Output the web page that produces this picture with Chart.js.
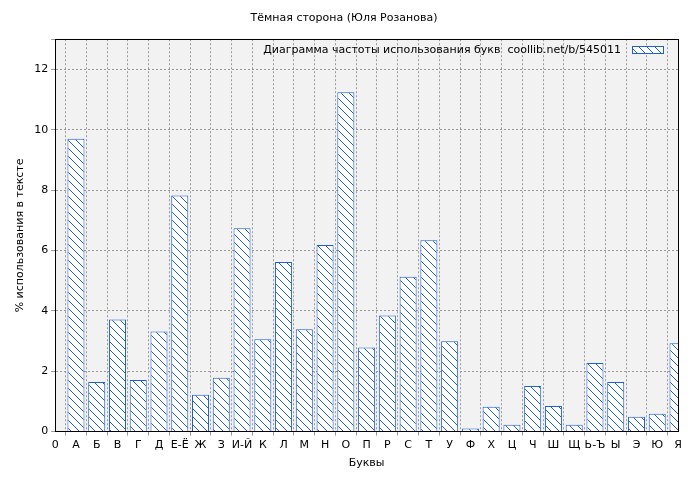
<!DOCTYPE html>
<html><head><meta charset="utf-8">
<script src="https://cdn.jsdelivr.net/npm/chart.js@4"></script>
<style>body{margin:0;background:#fff}#w{width:700px;height:480px}</style>
</head><body><div id="w"><canvas id="c"></canvas></div>
<script>
const tickLabels=["0","А","Б","В","Г","Д","Е-Ё","Ж","З","И-Й","К","Л","М","Н","О","П","Р","С","Т","У","Ф","Х","Ц","Ч","Ш","Щ","Ь-Ъ","Ы","Э","Ю","Я"];
const letters=tickLabels.slice(1);
const values=[9.70,1.64,3.71,1.71,3.32,7.82,1.22,1.78,6.74,3.06,5.62,3.39,6.18,11.24,2.79,3.85,5.13,6.34,2.99,0.10,0.82,0.23,1.51,0.85,0.23,2.27,1.64,0.49,0.59,2.93];
const legendText="Диаграмма частоты использования букв  coollib.net/b/545011";

function hatch(){const n=8,p=document.createElement('canvas');p.width=n;p.height=n;const g=p.getContext('2d');
g.fillStyle='#fff';g.fillRect(0,0,n,n);g.strokeStyle='#1f5fd0';g.lineWidth=1;
g.beginPath();for(const o of [-n,0,n]){g.moveTo(o,0);g.lineTo(o+n,n);}g.stroke();
return g.createPattern(p,'repeat');}
const pat=hatch();
Chart.defaults.font.family='DejaVu Sans';Chart.defaults.font.size=11;Chart.defaults.color='#000';
const bg={id:'bg',beforeDraw(c){const a=c.chartArea,x=c.ctx;x.save();x.fillStyle='#f2f2f2';x.fillRect(a.left,a.top,a.right-a.left,a.bottom-a.top);x.restore();},
afterDraw(c){const a=c.chartArea,x=c.ctx;x.save();x.strokeStyle='#000';x.lineWidth=1;x.setLineDash([]);
x.strokeRect(Math.round(a.left)+0.5,Math.round(a.top)+0.5,Math.round(a.right-a.left),Math.round(a.bottom-a.top));
x.font='11px DejaVu Sans';x.fillStyle='#000';x.textAlign='right';x.textBaseline='middle';
x.fillText(legendText,a.right-57,50);x.fillStyle=pat;x.fillRect(a.right-46,46,32,8);x.strokeStyle='#1f5fd0';x.strokeRect(a.right-45.5,46.5,31,7);x.restore();}};
new Chart(document.getElementById('c'),{type:'bar',
data:{datasets:[{data:letters.map((l,i)=>({x:i+1,y:values[i]})),backgroundColor:pat,borderColor:'#1f5fd0',borderWidth:1,barPercentage:0.82,categoryPercentage:1}]},
options:{responsive:true,maintainAspectRatio:false,animation:false,
layout:{padding:{left:10,right:22,top:0,bottom:6}},
plugins:{legend:{display:false},tooltip:{enabled:false},
title:{display:true,text:'Тёмная сторона (Юля Розанова)',font:{size:11,weight:'normal'},padding:{top:12,bottom:14}}},
scales:{x:{type:'linear',min:0,max:30,offset:false,
ticks:{stepSize:1,autoSkip:false,maxRotation:0,callback:v=>tickLabels[v]},
grid:{color:'#999',tickLength:4},border:{color:'#000',dash:[2,2]},
title:{display:true,text:'Буквы',padding:{top:2}}},
y:{min:0,max:13,ticks:{stepSize:2,callback:v=>v%2===0?v:''},
grid:{color:'#999',tickLength:4},border:{color:'#000',dash:[2,2]},
title:{display:true,text:'% использования в тексте'}}}},
plugins:[bg]});
</script></body></html>
